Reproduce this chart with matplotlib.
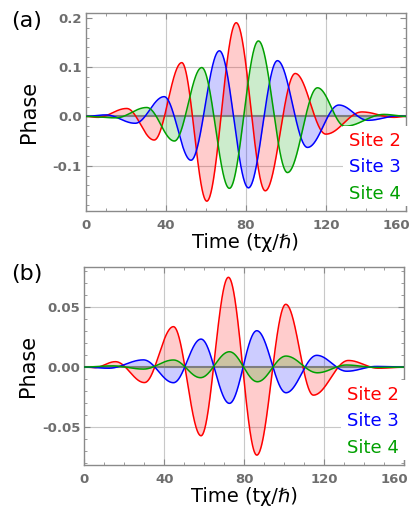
import numpy as np
import matplotlib
matplotlib.use("Agg")
import matplotlib.pyplot as plt
from matplotlib.patches import Rectangle
from matplotlib.ticker import MultipleLocator
from matplotlib.transforms import ScaledTranslation

# extrema (time, phase) of each site's phase trace
red_a_t = [0, 6, 20.5, 34.2, 48, 60.5, 75.2, 89.7, 104.7, 120.0, 138, 154, 160]
red_a_v = [0, -0.002, 0.016, -0.048, 0.109, -0.172, 0.190, -0.151, 0.087, -0.036, 0.009, -0.002, 0]
blue_a_t = [0, 10, 24.7, 39.2, 52.6, 66.8, 81.3, 95.8, 110.8, 126.5, 141, 156, 160]
blue_a_v = [0, 0.003, -0.014, 0.040, -0.089, 0.133, -0.145, 0.113, -0.063, 0.023, -0.008, 0.001, 0]
green_a_t = [0, 15, 30.5, 44.3, 58, 71.8, 86.3, 100.8, 115.8, 129.5, 149, 160]
green_a_v = [0, -0.003, 0.018, -0.050, 0.099, -0.146, 0.153, -0.114, 0.058, -0.020, 0.004, 0]

red_b_t = [0, 5, 15.5, 30.0, 44.5, 58.3, 72, 86.2, 100.7, 114.5, 132, 147, 160]
red_b_v = [0, -0.0005, 0.0045, -0.013, 0.0338, -0.0575, 0.0751, -0.0737, 0.0525, -0.0235, 0.0055, -0.001, 0]
blue_b_t = [0, 12, 29.5, 44.5, 58.3, 72.5, 86.2, 100.8, 116.2, 131.2, 146, 160]
blue_b_v = [0, -0.001, 0.006, -0.0131, 0.0234, -0.0304, 0.0304, -0.0215, 0.0098, -0.0035, 0.0005, 0]
green_b_t = [0, 14, 29.5, 44.5, 58, 72.5, 86.5, 100.8, 116.5, 131, 146, 160]
green_b_v = [0, 0.001, -0.0017, 0.0059, -0.0089, 0.0128, -0.0123, 0.0092, -0.0048, 0.0017, -0.0003, 0]

site_labels = ["Site 2", "Site 3", "Site 4"]
site_colors = ["#ff0000", "#0000ff", "#00a000"]

x_ticks = [0, 40, 80, 120, 160]
y_ticks_a = [0.2, 0.1, 0.0, -0.1]
y_labels_a = ["0.2", "0.1", "0.0", "-0.1"]
y_ticks_b = [0.05, 0.0, -0.05]
y_labels_b = ["0.05", "0.00", "-0.05"]

GRAY = "#8a8a8a"
TICK_GRAY = "#6e6e6e"


def wave(knot_t, knot_v, t):
    """Half-cosine segments between consecutive extrema."""
    out = np.zeros_like(t)
    for t0, t1, v0, v1 in zip(knot_t[:-1], knot_t[1:], knot_v[:-1], knot_v[1:]):
        m = (t >= t0) & (t <= t1)
        s = (t[m] - t0) / (t1 - t0)
        out[m] = v0 + (v1 - v0) * (1 - np.cos(np.pi * s)) / 2
    return out


def draw_panel(fig, ax, series, ylim, yticks, ylabels, ygrid, yminor):
    t = np.linspace(0, 160, 1601)
    for x in x_ticks[1:-1]:
        ax.axvline(x, color="#c8c8c8", lw=0.8, zorder=0)
    for y in ygrid:
        ax.axhline(y, color="#c8c8c8", lw=0.8, zorder=0)

    curves = [wave(kt, kv, t) for kt, kv in series]
    for v, c in zip(curves, site_colors):
        ax.fill_between(t, v, 0, color=c, alpha=0.2, lw=0, zorder=1)
    ax.axhline(0, color="#7f7f7f", lw=1.5, zorder=2)
    for v, c in zip(curves, site_colors):
        ax.plot(t, v, color=c, lw=1.1, zorder=3)

    ax.set_xlim(0, 160)
    ax.set_ylim(*ylim)
    ax.set_xticks(x_ticks)
    ax.set_xticklabels([str(x) for x in x_ticks])
    ax.set_yticks(yticks)
    ax.set_yticklabels(ylabels)
    ax.xaxis.set_minor_locator(MultipleLocator(10))
    ax.yaxis.set_minor_locator(MultipleLocator(yminor))
    ax.tick_params(which="both", direction="in", top=True, right=True,
                   color=GRAY, labelcolor=TICK_GRAY)
    ax.tick_params(which="major", length=4)
    ax.tick_params(which="minor", length=2.5)
    ax.tick_params(axis="x", pad=5.5)
    ax.tick_params(axis="y", pad=3)
    for lab in ax.get_xticklabels() + ax.get_yticklabels():
        lab.set_fontweight("bold")
        lab.set_fontsize(9.5)
    # keep the last time label inside the figure
    last = ax.get_xticklabels()[-1]
    last.set_horizontalalignment("right")
    last.set_transform(last.get_transform()
                       + ScaledTranslation(3 / 72, 0, fig.dpi_scale_trans))
    for sp in ax.spines.values():
        sp.set_color(GRAY)
        sp.set_linewidth(1.0)

    ax.set_xlabel("Time (tχ/ℏ)", fontsize=14, labelpad=1)
    ax.set_ylabel("Phase", fontsize=15)
    ax.yaxis.set_label_coords(-0.145, 0.5)

    # white key box over the lower right corner
    ax.add_patch(Rectangle((0.803, 0.025), 0.22, 0.405, transform=ax.transAxes,
                           facecolor="white", edgecolor="none", clip_on=False, zorder=6))
    for lab, c, y in zip(site_labels, site_colors, [0.355, 0.222, 0.088]):
        ax.text(0.822, y, lab, color=c, fontsize=13, ha="left", va="center",
                transform=ax.transAxes, zorder=7)


fig = plt.figure(figsize=(4.17, 5.14), dpi=100)
ax_a = fig.add_axes([0.2055, 0.5895, 0.768, 0.3845])
ax_b = fig.add_axes([0.2026, 0.0953, 0.767, 0.3847])

draw_panel(fig, ax_a, [(red_a_t, red_a_v), (blue_a_t, blue_a_v), (green_a_t, green_a_v)],
           (-0.192, 0.209), y_ticks_a, y_labels_a, [0.1, -0.1], 0.02)
draw_panel(fig, ax_b, [(red_b_t, red_b_v), (blue_b_t, blue_b_v), (green_b_t, green_b_v)],
           (-0.082, 0.0835), y_ticks_b, y_labels_b, [0.05, -0.05], 0.01)

fig.text(0.027, 0.978, "(a)", fontsize=16, ha="left", va="top")
fig.text(0.027, 0.487, "(b)", fontsize=16, ha="left", va="top")

fig.savefig("out.png", dpi=100)
